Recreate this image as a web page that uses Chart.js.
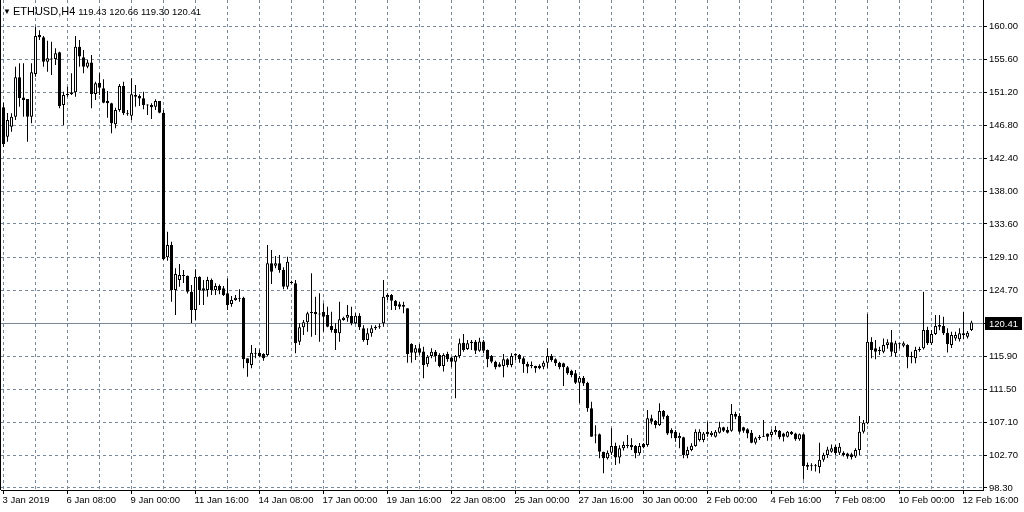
<!DOCTYPE html>
<html>
<head>
<meta charset="utf-8">
<script src="https://cdn.jsdelivr.net/npm/chart.js@4/dist/chart.umd.min.js"></script>
<style>
  html, body { margin: 0; padding: 0; background: #fff; }
  #wrap { position: relative; width: 1024px; height: 512px; }
  #head { position: absolute; left: 3px; top: 3px; font-family: 'Liberation Sans', Arial, sans-serif; color: #000; white-space: pre; line-height: 13px; }
  #head .tri { font-size: 8px; vertical-align: 1px; margin-right: 2px; }
  #head .sym { font-size: 11px; margin-right: 3px; }
  #head .ohlc { font-size: 9.5px; }
</style>
</head>
<body>
<div id="wrap">
  <canvas id="chart" width="1024" height="512"></canvas>
  <div id="head"><span class="tri">▼</span><span class="sym">ETHUSD,H4</span><span class="ohlc" id="ohlc"></span></div>
</div>
<script>
const symbol = 'ETHUSD,H4';

// H4 candles, 3 Jan 2019 16:00 .. 13 Feb 2019
const opens = [
  149.2, 145.27, 146.6, 147.94, 153.2, 150.5, 150.3, 147.94, 153.65, 158.86,
  158.55, 155.3, 155.6, 155.65, 156.55, 149.5, 150.84, 150.93, 151.2, 157.3,
  155.9, 154.62, 155.2, 150.97, 152.48, 151.73, 150.04, 149.73, 146.92, 148.83,
  152.04, 148.3, 148.07, 150.84, 150.7, 150.4, 149.5, 149.5, 149.28, 150.04,
  148.48, 129.14, 130.78, 124.77, 126.1, 126.7, 126.68, 124.54, 122.09, 126.54,
  125.0, 124.77, 126.1, 124.77, 125.3, 125.0, 124.32, 122.9, 123.43, 123.6,
  123.74, 115.63, 114.74, 116.3, 116.38, 116.2, 116.07, 128.33, 128.0, 128.33,
  127.44, 125.21, 125.8, 125.66, 117.86, 119.78, 120.45, 121.7, 121.83, 121.55,
  121.83, 121.43, 119.95, 119.6, 118.98, 120.76, 121.07, 121.3, 120.31, 121.34,
  119.64, 118.08, 118.98, 119.87, 119.8, 120.31, 123.8, 124.1, 123.34, 122.85,
  122.76, 122.32, 117.55, 116.38, 116.97, 116.56, 114.83, 115.94, 116.52, 116.07,
  114.6, 116.2, 115.76, 115.18, 115.94, 117.72, 116.87, 117.64, 117.86, 116.65,
  117.9, 116.74, 115.94, 115.18, 114.83, 114.6, 115.5, 114.74, 116.0, 116.07,
  115.63, 114.88, 114.6, 114.6, 114.65, 114.52, 115.05, 115.94, 115.5, 115.05,
  114.96, 114.43, 113.98, 113.63, 112.37, 113.03, 112.37, 108.95, 105.3, 105.48,
  103.15, 102.26, 103.01, 103.9, 102.39, 103.6, 103.9, 104.05, 103.9, 102.93,
  104.18, 104.05, 107.61, 107.3, 106.72, 108.59, 107.92, 106.05, 105.82, 104.94,
  105.07, 102.7, 103.37, 103.9, 104.71, 104.71, 105.82, 105.38, 105.16, 105.7,
  106.41, 106.05, 105.95, 108.19, 107.92, 106.41, 106.14, 105.7, 104.36, 104.94,
  105.16, 105.6, 105.38, 105.75, 105.95, 105.6, 105.16, 105.82, 105.6, 104.8,
  105.5, 101.37, 101.2, 101.25, 101.1, 102.06, 102.7, 103.15, 103.82, 103.0,
  103.0, 102.9, 102.8, 102.5, 103.37, 105.82, 106.94, 117.86, 116.97, 116.6,
  116.52, 117.41, 117.77, 116.3, 117.55, 117.3, 117.41, 115.85, 115.63, 116.74,
  116.97, 119.42, 117.64, 118.88, 119.87, 119.95, 119.06, 117.41, 118.3, 118.2,
  118.75, 118.53, 119.43
];
const highs = [
  149.8, 148.43, 148.4, 154.6, 155.07, 155.07, 150.3, 155.07, 159.97, 159.5,
  158.73, 158.1, 157.97, 157.08, 156.63, 151.28, 151.95, 153.74, 158.73, 158.19,
  156.86, 155.52, 156.19, 152.6, 153.74, 152.94, 151.37, 149.8, 149.14, 152.3,
  152.61, 148.83, 153.07, 152.18, 150.93, 151.28, 149.6, 149.73, 150.26, 150.04,
  148.83, 132.56, 131.23, 127.67, 128.24, 127.44, 126.7, 125.43, 127.53, 126.6,
  126.1, 126.54, 126.3, 125.66, 125.5, 125.3, 126.3, 123.97, 124.1, 124.86,
  123.87, 115.63, 117.41, 117.0, 116.83, 116.3, 130.78, 130.11, 129.3, 129.45,
  127.8, 129.22, 126.0, 126.1, 120.31, 120.76, 121.87, 127.0, 123.87, 124.32,
  123.0, 122.54, 121.87, 120.31, 123.2, 121.2, 122.76, 122.54, 121.65, 121.65,
  120.07, 119.64, 120.07, 120.07, 120.3, 126.1, 124.32, 124.23, 123.43, 123.2,
  123.2, 122.32, 117.64, 117.41, 117.55, 117.19, 116.07, 116.97, 116.74, 116.3,
  116.3, 116.52, 115.85, 116.07, 118.3, 118.88, 118.08, 118.08, 118.08, 118.4,
  118.08, 116.83, 116.07, 115.32, 115.1, 116.2, 115.63, 116.3, 116.3, 116.2,
  115.85, 115.18, 115.2, 114.65, 114.83, 115.3, 116.97, 116.2, 115.63, 115.18,
  115.05, 114.6, 114.1, 114.07, 113.27, 113.27, 112.5, 109.84, 106.7, 105.6,
  103.15, 103.3, 106.27, 104.36, 104.0, 104.5, 105.38, 104.94, 104.05, 104.3,
  104.3, 108.72, 108.1, 107.4, 109.62, 108.72, 108.1, 106.27, 106.05, 105.7,
  105.16, 103.82, 104.27, 106.14, 106.14, 105.8, 107.16, 105.93, 106.05, 107.16,
  106.5, 106.5, 109.53, 108.5, 108.28, 106.5, 106.3, 106.05, 105.16, 105.38,
  107.39, 105.6, 106.14, 106.6, 106.05, 105.7, 105.93, 105.93, 105.7, 105.6,
  105.6, 101.7, 101.6, 101.5, 104.36, 103.0, 103.82, 104.1, 104.05, 104.3,
  103.2, 103.0, 103.0, 103.6, 107.92, 107.39, 121.56, 118.45, 118.08, 117.19,
  118.3, 118.2, 119.42, 118.0, 117.7, 117.9, 117.5, 116.52, 117.19, 117.19,
  124.54, 119.87, 119.42, 121.43, 121.43, 121.2, 119.64, 119.2, 119.2, 119.64,
  121.87, 119.3, 120.66
];
const lows = [
  143.9, 144.6, 145.93, 147.5, 149.28, 147.94, 144.6, 147.05, 153.29, 158.19,
  154.62, 153.95, 153.51, 154.85, 149.06, 146.83, 150.6, 150.84, 150.6, 154.62,
  153.74, 154.4, 149.06, 150.17, 150.84, 149.73, 147.8, 145.72, 146.39, 148.6,
  148.17, 148.05, 147.5, 149.28, 149.37, 148.93, 148.17, 147.63, 148.83, 148.39,
  128.78, 128.69, 123.2, 121.43, 125.21, 125.7, 124.3, 120.36, 120.76, 122.76,
  122.76, 123.87, 124.1, 124.1, 124.2, 123.97, 122.09, 122.54, 123.34, 123.2,
  114.3, 113.17, 114.3, 115.63, 115.77, 115.3, 115.94, 125.57, 127.66, 127.08,
  124.86, 124.86, 125.6, 116.3, 117.41, 118.75, 119.2, 118.53, 118.75, 117.86,
  119.2, 119.78, 119.1, 116.74, 117.86, 120.67, 120.53, 120.07, 120.2, 119.42,
  117.86, 117.41, 118.53, 119.42, 119.6, 119.87, 123.43, 122.09, 122.09, 122.2,
  121.65, 115.05, 115.05, 115.41, 116.07, 112.96, 114.52, 115.63, 115.18, 114.43,
  113.86, 115.18, 114.43, 110.29, 115.63, 116.52, 116.74, 116.74, 116.2, 116.5,
  116.3, 114.43, 114.96, 114.17, 114.43, 113.1, 114.43, 114.43, 115.41, 115.05,
  113.7, 113.63, 114.3, 113.72, 114.17, 114.17, 114.3, 115.18, 114.6, 114.17,
  111.93, 113.43, 113.1, 112.2, 109.62, 111.95, 108.5, 105.16, 104.27, 102.26,
  100.26, 102.1, 102.7, 101.37, 101.57, 103.3, 103.6, 103.37, 102.26, 102.7,
  103.6, 103.82, 106.83, 106.27, 106.58, 107.5, 105.38, 104.94, 104.49, 103.6,
  102.26, 102.26, 103.2, 103.82, 104.5, 104.4, 105.16, 105.16, 105.05, 105.6,
  105.8, 105.6, 105.82, 107.5, 105.6, 105.7, 104.94, 104.27, 104.1, 104.71,
  105.1, 104.6, 105.05, 105.4, 104.8, 104.5, 105.05, 105.38, 104.6, 104.6,
  99.45, 100.7, 100.6, 100.5, 100.26, 101.8, 102.3, 103.0, 102.7, 102.7,
  102.5, 102.2, 102.1, 102.3, 102.7, 105.6, 106.83, 115.63, 115.5, 116.07,
  116.3, 116.9, 115.94, 115.8, 116.9, 117.1, 114.3, 114.96, 114.96, 116.5,
  116.83, 117.4, 117.4, 118.75, 119.4, 118.75, 116.4, 117.0, 118.0, 117.9,
  118.2, 118.3, 119.30
];
const closes = [
  144.3, 147.5, 147.94, 153.2, 150.4, 150.17, 147.94, 153.87, 158.73, 158.55,
  155.3, 155.75, 155.7, 156.41, 149.37, 150.84, 150.9, 151.2, 157.3, 155.97,
  154.62, 155.2, 150.97, 152.4, 151.81, 149.81, 149.73, 147.05, 148.83, 152.04,
  148.39, 148.25, 150.93, 150.6, 150.36, 149.5, 149.45, 149.19, 150.04, 148.48,
  128.87, 130.78, 124.77, 126.9, 126.77, 126.65, 124.54, 122.09, 126.54, 124.77,
  124.68, 126.1, 124.77, 125.3, 124.77, 124.1, 122.76, 123.43, 123.74, 123.66,
  115.5, 114.96, 116.38, 116.25, 115.94, 115.63, 128.33, 127.22, 128.33, 127.44,
  125.21, 128.55, 125.7, 117.64, 119.78, 120.45, 121.65, 121.75, 121.52, 121.5,
  121.2, 119.87, 119.42, 118.98, 120.85, 121.07, 121.43, 120.31, 121.34, 119.78,
  118.08, 118.98, 119.64, 119.64, 119.9, 123.87, 124.1, 123.34, 122.63, 122.54,
  122.54, 116.2, 116.38, 116.97, 116.38, 114.74, 115.85, 116.52, 115.94, 114.6,
  116.07, 115.5, 115.18, 115.94, 117.64, 116.74, 117.64, 117.86, 116.65, 117.9,
  116.65, 115.5, 115.18, 114.43, 114.52, 115.5, 114.74, 115.94, 116.2, 115.5,
  114.88, 114.52, 114.65, 114.3, 114.3, 115.05, 115.94, 115.41, 114.96, 114.43,
  114.43, 113.63, 113.41, 112.37, 113.03, 112.28, 108.95, 105.16, 105.4, 103.15,
  102.26, 103.01, 103.9, 102.39, 103.6, 104.05, 103.95, 103.74, 102.93, 103.9,
  103.74, 107.61, 107.16, 106.72, 108.59, 107.83, 105.6, 105.6, 104.94, 105.25,
  102.7, 103.37, 103.95, 105.82, 105.82, 105.6, 105.5, 105.7, 105.82, 106.41,
  105.95, 105.7, 108.19, 107.83, 105.82, 105.95, 105.6, 104.36, 104.94, 105.16,
  105.2, 105.16, 105.82, 106.05, 105.07, 105.16, 105.82, 105.5, 104.8, 105.5,
  101.23, 101.15, 101.25, 101.2, 102.06, 102.7, 103.46, 103.6, 102.93, 103.82,
  102.7, 102.5, 102.4, 103.37, 105.82, 107.03, 117.86, 116.74, 116.52, 116.65,
  117.41, 117.77, 116.52, 117.64, 117.5, 117.64, 115.77, 115.8, 116.74, 116.8,
  119.42, 117.64, 118.88, 119.95, 120.1, 119.0, 117.55, 118.75, 118.75, 118.98,
  118.98, 119.06, 120.41
];

// one label every 16 bars, a grid line every 8 bars
const tickLabels = [
  '3 Jan 2019', '6 Jan 08:00', '9 Jan 00:00', '11 Jan 16:00', '14 Jan 08:00',
  '17 Jan 00:00', '19 Jan 16:00', '22 Jan 08:00', '25 Jan 00:00', '27 Jan 16:00',
  '30 Jan 00:00', '2 Feb 00:00', '4 Feb 16:00', '7 Feb 08:00', '10 Feb 00:00',
  '12 Feb 16:00'
];
const priceTicks = [98.30, 102.70, 107.10, 111.50, 115.90, 120.30, 124.70, 129.10,
  133.60, 138.00, 142.40, 146.80, 151.20, 155.60, 160.00];

const last = closes.length - 1;
const lastPrice = closes[last];
const gridColor = 'rgb(119,136,153)';

document.getElementById('ohlc').textContent =
  [opens[last], highs[last], lows[last], closes[last]].map(v => v.toFixed(2)).join(' ');

const wicks = highs.map((h, i) => ({x: i, y: [lows[i], h]}));
const bodies = opens.map((o, i) => ({x: i, y: [o, closes[i]]}));
const bodyColors = opens.map((o, i) => closes[i] >= o ? '#ffffff' : '#000000');

const frame = {
  id: 'frame',
  beforeDatasetsDraw(chart) {
    const {ctx, chartArea: a, scales: {y}} = chart;
    const py = Math.round(y.getPixelForValue(lastPrice)) + 0.5;
    ctx.save();
    ctx.strokeStyle = gridColor;
    ctx.lineWidth = 1;
    ctx.beginPath();
    ctx.moveTo(a.left, py);
    ctx.lineTo(a.right, py);
    ctx.stroke();
    ctx.restore();
  },
  afterDraw(chart) {
    const {ctx, chartArea: a, scales: {y}} = chart;
    const py = Math.round(y.getPixelForValue(lastPrice));
    ctx.save();
    ctx.strokeStyle = '#000';
    ctx.lineWidth = 1;
    ctx.beginPath();
    ctx.moveTo(0.5, a.top);
    ctx.lineTo(0.5, a.bottom);
    ctx.stroke();
    ctx.fillStyle = '#000';
    ctx.fillRect(a.right + 2, py - 6, 37, 13);
    ctx.fillStyle = '#fff';
    ctx.font = '9.5px "Liberation Sans"';
    ctx.textBaseline = 'middle';
    ctx.fillText(lastPrice.toFixed(2), a.right + 6, py + 1);
    ctx.restore();
  }
};

Chart.defaults.font.family = '"Liberation Sans", Arial, sans-serif';
Chart.defaults.font.size = 9.5;
Chart.defaults.color = '#000';

new Chart(document.getElementById('chart'), {
  type: 'bar',
  data: {
    datasets: [
      {
        label: symbol + ' wick',
        data: wicks,
        backgroundColor: '#000',
        borderWidth: 0,
        barThickness: 1,
        minBarLength: 1,
        grouped: false,
        inflateAmount: 0,
        order: 2
      },
      {
        label: symbol,
        data: bodies,
        backgroundColor: bodyColors,
        borderColor: '#000',
        borderWidth: 1,
        borderSkipped: false,
        barThickness: 3,
        minBarLength: 1,
        grouped: false,
        inflateAmount: 0,
        order: 1
      }
    ]
  },
  options: {
    responsive: false,
    animation: false,
    layout: { padding: { left: 1, top: 0, right: 0, bottom: 0 } },
    plugins: { legend: { display: false }, tooltip: { enabled: false } },
    scales: {
      x: {
        type: 'linear',
        offset: false,
        min: -0.625,
        max: 244.875,
        afterBuildTicks: (scale) => {
          scale.ticks = tickLabels.flatMap((t, k) => [{value: k * 16}, {value: k * 16 + 8}])
            .filter(t => t.value <= last);
        },
        afterFit: (scale) => {
          scale.height = 22;
          scale.paddingLeft = 0;
          scale.paddingRight = 0;
        },
        ticks: {
          autoSkip: false,
          maxRotation: 0,
          align: 'start',
          padding: 1,
          labelOffset: -1,
          callback: (v) => v % 16 === 0 ? tickLabels[v / 16] : ''
        },
        grid: {
          offset: false,
          color: gridColor,
          tickLength: 4,
          tickColor: (c) => c.tick && c.tick.value % 16 === 0 ? '#000' : 'rgba(0,0,0,0)'
        },
        border: { display: true, color: '#000', dash: [3, 3] }
      },
      y: {
        position: 'right',
        min: 98.03,
        max: 163.54,
        afterBuildTicks: (scale) => {
          scale.ticks = priceTicks.map(v => ({value: v}));
        },
        afterFit: (scale) => {
          scale.width = 41;
          scale.paddingTop = 0;
          scale.paddingBottom = 0;
        },
        ticks: {
          padding: 2,
          callback: (v) => Number(v).toFixed(2)
        },
        grid: {
          color: gridColor,
          tickLength: 4,
          tickColor: '#000'
        },
        border: { display: true, color: '#000', dash: [3, 3] }
      }
    }
  },
  plugins: [frame]
});
</script>
</body>
</html>
